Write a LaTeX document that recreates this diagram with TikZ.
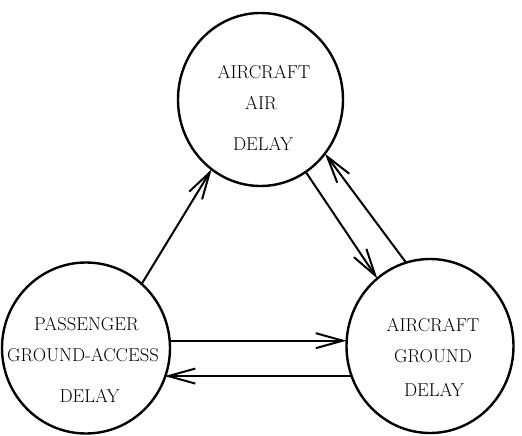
\documentclass[tikz,border=0pt]{standalone}
\usetikzlibrary{shapes.geometric,arrows.meta}
\begin{document}
\begin{tikzpicture}[x=1pt,y=-1pt,
  bubble/.style={draw, ellipse, line width=2.4pt, inner sep=0pt, outer sep=0pt},
  lbl/.style={inner sep=0pt, font=\fontsize{18.6}{22}\selectfont},
  flow/.style={line width=2pt, -{Straight Barb[length=27pt,width=15pt,line width=2pt]}}]
\useasboundingbox (0,0) rectangle (522,436);
% circles
\node[bubble, minimum width=165pt, minimum height=173pt] (air) at (260.5,99.5) {};
\node[bubble, minimum width=168pt, minimum height=171pt] (pax) at (86,348) {};
\node[bubble, minimum width=167pt, minimum height=174pt] (gnd) at (430,346) {};
% labels
\node[lbl] (airA) at (264,72) {AIRCRAFT};
\node[lbl] (airB) at (261,103) {AIR};
\node[lbl] (airC) at (263,143.5) {DELAY};
\node[lbl] (paxA) at (86.5,324.5) {PASSENGER};
\node[lbl] (paxB) at (83,355.5) {GROUND-ACCESS};
\node[lbl] (paxC) at (89.5,395.5) {DELAY};
\node[lbl] (gndA) at (433,325) {AIRCRAFT};
\node[lbl] (gndB) at (433,356) {GROUND};
\node[lbl] (gndC) at (434,389.5) {DELAY};
% connectors
\draw[flow] (pax.49.8) -- (air.235.3);
\draw[flow] (air.302.7) -- (gnd.128.2);
\draw[flow] (gnd.106.6) -- (air.320.8);
\draw[flow] (pax.5) -- (pax.5 -| gnd.west);
\draw[flow] (gnd.201.7) -- (gnd.201.7 -| pax.339.8);
\end{tikzpicture}
\end{document}
